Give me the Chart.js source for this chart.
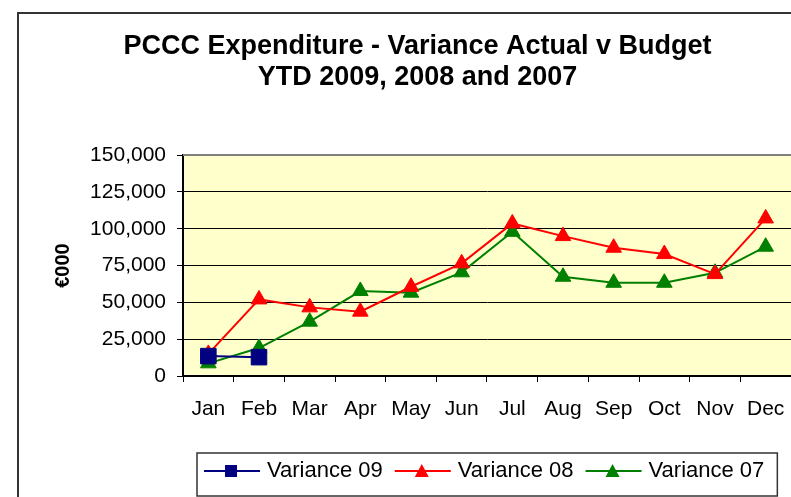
<!DOCTYPE html>
<html lang="en">
  <head>
    <meta charset="UTF-8" />
    <script src="https://cdn.jsdelivr.net/npm/chart.js"></script>
    <style>
      html, body { margin: 0; padding: 0; background: #fff; }
      .chart-container { width: 791px; height: 497px; }
    </style>
    <title>PCCC Expenditure</title>
  </head>
  <body>
    <div class="chart-container">
      <canvas id="varChart"></canvas>
    </div>
    <script>
      // data
      const months = ["Jan", "Feb", "Mar", "Apr", "May", "Jun", "Jul", "Aug", "Sep", "Oct", "Nov", "Dec"];
      const variance09 = [13500, 12800, null, null, null, null, null, null, null, null, null, null];
      const variance08 = [15000, 52000, 46600, 43700, 60600, 76500, 103600, 95000, 87100, 82800, 69200, 107000];
      const variance07 = [8600, 19000, 36900, 57700, 56600, 70400, 97900, 67400, 63300, 63300, 70100, 87800];
      const yTicks = [0, 25000, 50000, 75000, 100000, 125000, 150000];

      const FONT = "'Liberation Sans', Arial, sans-serif";

      // frame, plot background and border
      const framePlugin = {
        id: "frame",
        beforeDraw(chart) {
          const c = chart.ctx;
          const a = chart.chartArea;
          c.save();
          c.fillStyle = "#fff";
          c.fillRect(0, 0, chart.width, chart.height);
          c.strokeStyle = "#333";
          c.lineWidth = 2;
          c.strokeRect(18, 13, chart.width + 20, chart.height + 20);
          c.fillStyle = "#FFFFCC";
          c.fillRect(a.left, a.top, a.right - a.left, a.bottom - a.top);
          c.restore();
        },
        afterDatasetsDraw(chart) {
          const c = chart.ctx;
          const a = chart.chartArea;
          c.save();
          c.strokeStyle = "#808080";
          c.lineWidth = 2;
          c.beginPath();
          c.moveTo(a.left, a.top);
          c.lineTo(a.right, a.top);
          c.stroke();
          c.restore();
        },
      };

      // legend drawn as line + marker, with a box round it
      const legendPlugin = {
        id: "boxLegend",
        afterDraw(chart) {
          const c = chart.ctx;
          c.save();
          c.font = "22px " + FONT;
          c.textBaseline = "middle";
          const cy = 471;
          let x = 204;
          const start = x;
          chart.data.datasets.forEach((ds) => {
            c.strokeStyle = ds.borderColor;
            c.lineWidth = 2;
            c.beginPath();
            c.moveTo(x, cy);
            c.lineTo(x + 56, cy);
            c.stroke();
            c.fillStyle = ds.backgroundColor;
            const mx = x + 27;
            if (ds.pointStyle === "rect") {
              c.fillRect(mx - 6, cy - 6, 12, 12);
            } else {
              c.beginPath();
              c.moveTo(mx, cy - 7);
              c.lineTo(mx + 7, cy + 6);
              c.lineTo(mx - 7, cy + 6);
              c.closePath();
              c.fill();
            }
            c.fillStyle = "#000";
            c.fillText(ds.label, x + 63, cy);
            x += 63 + c.measureText(ds.label).width + 12;
          });
          c.strokeStyle = "#333";
          c.lineWidth = 1.5;
          c.strokeRect(start - 7, 453, x - start + 8, 43);
          c.restore();
        },
      };

      const ds = (label, data, color, style, radius) => ({
        label: label,
        data: data,
        borderColor: color,
        backgroundColor: color,
        borderWidth: 2,
        pointStyle: style,
        pointRadius: radius,
        pointHoverRadius: radius,
        pointBorderWidth: 1,
        spanGaps: false,
        tension: 0,
      });

      new Chart(document.getElementById("varChart"), {
        type: "line",
        data: {
          labels: months,
          datasets: [
            ds("Variance 09", variance09, "#000080", "rect", 11),
            ds("Variance 08", variance08, "#FF0000", "triangle", 9),
            ds("Variance 07", variance07, "#008000", "triangle", 9),
          ],
        },
        options: {
          responsive: true,
          maintainAspectRatio: false,
          animation: false,
          layout: { autoPadding: false, padding: { left: 44, right: 0, top: 0, bottom: 71 } },
          plugins: {
            legend: { display: false },
            tooltip: { enabled: false },
            title: {
              display: true,
              text: ["PCCC Expenditure - Variance Actual v Budget", "YTD 2009, 2008 and 2007"],
              color: "#000",
              font: { family: FONT, size: 27, weight: "bold", lineHeight: 1.15 },
              padding: { top: 31, bottom: 62 },
            },
          },
          scales: {
            x: {
              offset: true,
              grid: { offset: true, drawOnChartArea: false, drawTicks: true, tickLength: 6, color: "#000" },
              border: { color: "#000", width: 2 },
              ticks: { color: "#000", padding: 15, font: { family: FONT, size: 21 } },
              afterFit: (scale) => {
                scale.height = 50;
                scale.paddingLeft = 0;
                scale.paddingRight = 0;
              },
            },
            y: {
              min: 0,
              max: 150000,
              afterBuildTicks: (scale) => { scale.ticks = yTicks.map((v) => ({ value: v })); },
              grid: { color: "#000", lineWidth: 1, tickLength: 6 },
              border: { color: "#000", width: 2 },
              ticks: {
                color: "#000",
                padding: 11,
                font: { family: FONT, size: 21 },
                callback: (v) => v.toLocaleString("en-US"),
              },
              title: {
                display: true,
                text: "€000",
                color: "#000",
                font: { family: FONT, size: 20, weight: "bold", lineHeight: 1.2 },
                padding: { top: 7, bottom: 0 },
              },
              afterFit: (scale) => { scale.width = 139; },
            },
          },
        },
        plugins: [framePlugin, legendPlugin],
      });
    </script>
  </body>
</html>
